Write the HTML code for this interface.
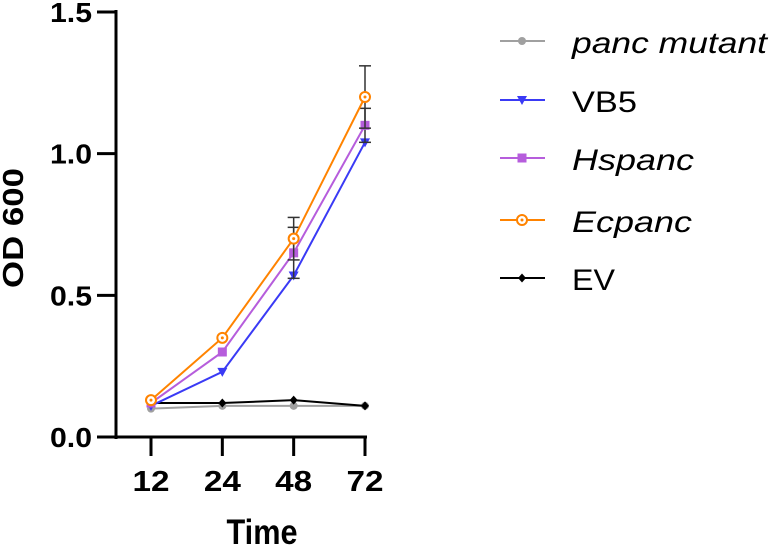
<!DOCTYPE html>
<html><head><meta charset="utf-8"><style>
body{margin:0;background:#fff}
svg{display:block;font-family:"Liberation Sans",Arial,sans-serif}
</style></head><body>
<svg id="chart" width="771" height="545" viewBox="0 0 771 545"></svg>
<script>
const categories=["12","24","48","72"];
const yTicks=[0,0.5,1.0,1.5];
const yTickLabels=["0.0","0.5","1.0","1.5"];
const pancMutant=[0.10,0.11,0.11,0.11];
const vb5=[0.11,0.23,0.57,1.04];
const hspanc=[0.12,0.30,0.65,1.10];
const ecpanc=[0.13,0.35,0.70,1.20];
const ev=[0.12,0.12,0.13,0.11];
const ecErr=[0,0,0.075,0.11];
const hsErr=[0,0,0.09,0.06];
const vbErr=[0,0,0,0];

const NS="http://www.w3.org/2000/svg";
const svg=document.getElementById("chart");
function el(t,a,p){const e=document.createElementNS(NS,t);for(const k in a)e.setAttribute(k,a[k]);(p||svg).appendChild(e);return e;}
const xPos=[151,223,294,365];
function x(i){return xPos[0]+i*(xPos[3]-xPos[0])/(categories.length-1);}
function y(v){return 437-v*(437-12)/1.5;}

let a=el("line",{x1:116,y1:10,x2:116,y2:439,stroke:"#000","stroke-width":3});

a=el("line",{x1:114.5,y1:437,x2:367,y2:437,stroke:"#000","stroke-width":3});

yTicks.forEach((v,i)=>{
  el("line",{x1:97,y1:y(v),x2:116,y2:y(v),stroke:"#000","stroke-width":3});
  const t=el("text",{x:92,y:y(v)+10,"text-anchor":"end","font-size":28,"font-weight":"bold",textLength:42,lengthAdjust:"spacingAndGlyphs"});
  t.textContent=yTickLabels[i];
  
  
});
categories.forEach((c,i)=>{
  el("line",{x1:x(i),y1:437,x2:x(i),y2:456,stroke:"#000","stroke-width":3});
  const t=el("text",{x:x(i),y:491,"text-anchor":"middle","font-size":29,"font-weight":"bold",textLength:37,lengthAdjust:"spacingAndGlyphs"});
  t.textContent=c;
  
  
});
let t=el("text",{x:262,y:544,"text-anchor":"middle","font-size":35,"font-weight":"bold",textLength:71,lengthAdjust:"spacingAndGlyphs"});t.textContent="Time";

t=el("text",{x:0,y:0,transform:"translate(23,228) rotate(-90)","text-anchor":"middle","font-size":29,"font-weight":"bold",textLength:120,lengthAdjust:"spacingAndGlyphs"});t.textContent="OD 600";


function marker(g,type,cx,cy,color){
  if(type==="circle")el("circle",{cx,cy,r:4,fill:color},g);
  if(type==="tri")el("polygon",{points:`${cx-5},${cy-4} ${cx+5},${cy-4} ${cx},${cy+5}`,fill:color},g);
  if(type==="square")el("rect",{x:cx-4.5,y:cy-4.5,width:9,height:9,fill:color},g);
  if(type==="ocircle"){el("circle",{cx,cy,r:5,fill:"#fff",stroke:color,"stroke-width":2},g);el("circle",{cx,cy,r:1.5,fill:color},g);}
  if(type==="diamond")el("polygon",{points:`${cx},${cy-4.5} ${cx+4},${cy} ${cx},${cy+4.5} ${cx-4},${cy}`,fill:color},g);
}
const series=[
 {name:"panc-mutant",data:pancMutant,err:null,color:"#a0a0a0",m:"circle"},
 {name:"ev",data:ev,err:null,color:"#000",m:"diamond"},
 {name:"vb5",data:vb5,err:vbErr,color:"#3a3af5",m:"tri"},
 {name:"hspanc",data:hspanc,err:hsErr,color:"#b65ddc",m:"square"},
 {name:"ecpanc",data:ecpanc,err:ecErr,color:"#ff8300",m:"ocircle"}
];
series.forEach(s=>{
  const g=el("g",{});
  
  
  if(s.err)s.data.forEach((v,i)=>{if(s.err[i]>0){
    el("line",{x1:x(i),y1:y(v+s.err[i]),x2:x(i),y2:y(v-s.err[i]),stroke:"#333","stroke-width":1.5},g);
    [v+s.err[i],v-s.err[i]].forEach(e=>el("line",{x1:x(i)-6,y1:y(e),x2:x(i)+6,y2:y(e),stroke:"#333","stroke-width":1.5},g));
  }});
  el("polyline",{points:s.data.map((v,i)=>x(i)+","+y(v)).join(" "),fill:"none",stroke:s.color,"stroke-width":2},g);
  s.data.forEach((v,i)=>marker(g,s.m,x(i),y(v),s.color));
});
const leg=[
 {label:"panc mutant",color:"#a0a0a0",m:"circle",it:true,y:41,w:195},
 {label:"VB5",color:"#3a3af5",m:"tri",it:false,y:100,w:65},
 {label:"Hspanc",color:"#b65ddc",m:"square",it:true,y:158,w:122},
 {label:"Ecpanc",color:"#ff8300",m:"ocircle",it:true,y:220,w:120},
 {label:"EV",color:"#000",m:"diamond",it:false,y:278,w:43}
];
leg.forEach(l=>{
  const g=el("g",{});
  
  
  el("line",{x1:500,y1:l.y,x2:545,y2:l.y,stroke:l.color,"stroke-width":2},g);
  marker(g,l.m,522,l.y,l.color);
  const tt=el("text",{x:572,y:l.y+12,"font-size":30,"font-style":l.it?"italic":"normal",textLength:l.w,lengthAdjust:"spacingAndGlyphs"},g);
  tt.textContent=l.label;
});
</script>
</body></html>
